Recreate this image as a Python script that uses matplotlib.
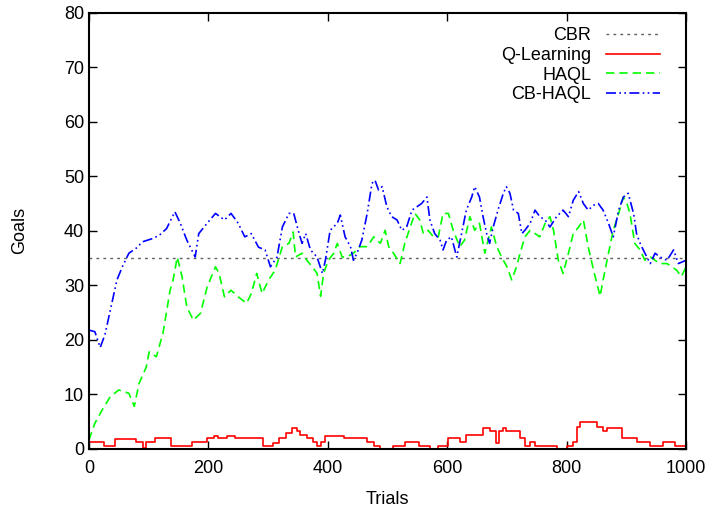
import matplotlib.pyplot as plt

plt.rcParams['font.family'] = ['Liberation Sans', 'DejaVu Sans']

cbr_level = 35

qlearn_t = [0, 25, 44, 79, 90, 96, 110, 138, 172, 198, 210, 216, 232, 244, 292, 309, 318,
            330, 340, 348, 354, 365, 376, 382, 388, 396, 427, 466, 477, 488, 510, 530, 552,
            571, 585, 602, 621, 632, 660, 672, 681, 686, 694, 699, 722, 730, 738, 747, 783,
            800, 810, 817, 822, 850, 860, 867, 893, 917, 940, 962, 982, 1000]
qlearn_v = [1.2, 0.6, 1.8, 1.2, 0.1, 1.2, 2.0, 0.6, 1.3, 2.0, 2.4, 2.0, 2.4, 2.0, 0.6, 1.0, 2.0,
            3.0, 3.8, 3.2, 2.6, 2.0, 1.3, 0.6, 1.3, 2.4, 2.0, 1.3, 0.6, 0.0, 0.6, 1.2, 0.6,
            0.0, 0.6, 2.0, 1.3, 2.6, 3.8, 3.2, 1.0, 3.2, 3.8, 3.2, 2.0, 0.6, 1.2, 0.6, 0.0,
            0.6, 1.3, 4.1, 5.0, 4.1, 3.2, 3.8, 2.0, 1.3, 0.6, 1.3, 0.6, 0.6]

haql_t = [0, 10, 22, 36, 50, 67, 76, 84, 96, 101, 113, 124, 136, 141, 148, 156, 164, 175,
          187, 198, 212, 218, 227, 238, 250, 264, 272, 281, 290, 301, 312, 324, 335, 342,
          346, 357, 365, 374, 382, 388, 393, 401, 410, 416, 424, 432, 443, 454, 466, 477,
          488, 496, 502, 510, 521, 529, 538, 546, 554, 560, 568, 577, 585, 593, 602, 610,
          621, 629, 638, 646, 654, 663, 674, 683, 691, 700, 708, 716, 722, 730, 739, 747,
          755, 764, 772, 778, 786, 794, 803, 811, 820, 828, 836, 845, 856, 861, 870, 878,
          887, 895, 901, 906, 914, 923, 931, 940, 948, 956, 968, 976, 984, 992, 1000]
haql_v = [1.6, 4.7, 7.1, 9.6, 10.8, 10.2, 7.8, 12.0, 15.0, 17.8, 16.9, 21.2, 29.1, 31.0,
          35.2, 31.6, 26.0, 23.6, 24.9, 29.7, 33.4, 32.2, 27.9, 29.1, 27.9, 26.7, 28.5, 32.2,
          28.5, 31.0, 32.8, 37.1, 37.7, 39.8, 35.2, 35.9, 34.6, 33.4, 32.2, 28.0, 32.2, 34.6,
          35.9, 37.7, 35.2, 35.2, 35.9, 37.1, 37.1, 38.9, 37.7, 40.1, 37.1, 35.9, 34.0, 37.7,
          40.7, 43.2, 42.0, 39.5, 40.1, 38.9, 38.9, 43.2, 43.2, 40.1, 37.1, 38.3, 42.6, 40.1,
          41.4, 35.9, 40.7, 37.1, 35.2, 33.4, 31.0, 33.4, 35.9, 38.9, 40.1, 39.5, 38.9, 41.4,
          42.6, 40.1, 34.6, 32.2, 35.9, 39.5, 40.7, 42.0, 37.1, 32.8, 28.0, 31.0, 35.9, 40.1,
          43.2, 46.2, 45.0, 43.2, 37.7, 36.5, 34.6, 35.2, 34.6, 34.0, 34.0, 33.4, 32.8, 31.6,
          33.4]

cbhaql_t = [0, 10, 19, 27, 39, 47, 56, 67, 79, 90, 107, 118, 130, 144, 153, 164, 178, 184,
            198, 212, 227, 238, 250, 261, 272, 284, 295, 304, 315, 324, 335, 343, 352, 357,
            363, 371, 382, 391, 396, 404, 416, 421, 429, 438, 443, 449, 457, 466, 474, 479,
            485, 491, 499, 507, 516, 524, 532, 541, 549, 557, 566, 571, 579, 588, 593, 599,
            607, 616, 624, 632, 641, 646, 654, 660, 666, 671, 677, 685, 694, 699, 705, 711,
            719, 725, 730, 739, 747, 755, 764, 772, 783, 794, 803, 811, 820, 828, 836, 845,
            853, 861, 870, 878, 887, 895, 903, 912, 917, 923, 931, 940, 948, 956, 968, 979,
            987, 1000]
cbhaql_v = [21.8, 21.5, 18.6, 21.0, 27.0, 31.0, 33.4, 35.9, 36.8, 38.0, 38.6, 39.2, 40.4,
            43.5, 41.4, 38.3, 35.2, 39.5, 41.4, 43.2, 42.0, 43.2, 41.4, 38.9, 39.5, 37.0, 36.5,
            33.4, 35.2, 40.7, 43.2, 43.2, 39.5, 37.7, 39.5, 36.5, 35.2, 32.2, 34.6, 40.1, 41.4,
            42.9, 38.9, 37.1, 34.6, 35.9, 38.3, 43.2, 48.7, 49.3, 47.5, 48.1, 44.4, 42.6, 42.0,
            40.1, 40.7, 43.8, 44.4, 45.0, 46.2, 42.0, 39.5, 38.3, 36.5, 38.3, 38.9, 35.2, 39.5,
            43.8, 46.2, 48.1, 46.2, 42.6, 39.5, 37.7, 40.7, 43.8, 46.9, 48.1, 46.9, 43.8, 43.2,
            39.5, 40.1, 41.4, 43.8, 42.6, 42.0, 40.7, 42.6, 43.8, 42.6, 45.6, 47.2, 45.0, 43.8,
            44.7, 45.0, 43.8, 41.4, 38.9, 43.8, 46.2, 46.9, 43.2, 39.5, 37.7, 35.9, 34.0, 35.9,
            35.2, 34.6, 36.5, 34.0, 34.6]

fig = plt.figure(figsize=(7.11, 5.13), dpi=100)
ax = fig.add_axes([0.125, 0.125, 0.84, 0.85])

ax.axhline(cbr_level, color='#606060', linestyle=(0, (2, 3)), linewidth=1, label='CBR')
ax.plot(qlearn_t, qlearn_v, color='#ff0000', linewidth=1.2, drawstyle='steps-post',
        label='Q-Learning')
ax.plot(haql_t, haql_v, color='#00ff00', linewidth=1.2, linestyle=(0, (5, 3)), label='HAQL')
ax.plot(cbhaql_t, cbhaql_v, color='#0000ff', linewidth=1.2,
        linestyle=(0, (6, 2, 1, 2, 1, 2)), label='CB-HAQL')

ax.set_xlim(0, 1000)
ax.set_ylim(0, 80)
ax.set_xticks(range(0, 1001, 200))
ax.set_yticks(range(0, 81, 10))
ax.tick_params(direction='in', length=6, width=1, top=True, right=True, labelsize=13)
ax.tick_params(axis='x', pad=8)
for s in ax.spines.values():
    s.set_linewidth(1.5)
ax.set_xlabel('Trials', fontsize=13, labelpad=10)
ax.set_ylabel('Goals', fontsize=13, labelpad=26)

ax.legend(loc='upper right', bbox_to_anchor=(0.98, 1.0), frameon=False, markerfirst=False,
          fontsize=13, handlelength=3.0, labelspacing=0.15, borderaxespad=0.4,
          handletextpad=0.8)

fig.savefig('out.png', dpi=100)
